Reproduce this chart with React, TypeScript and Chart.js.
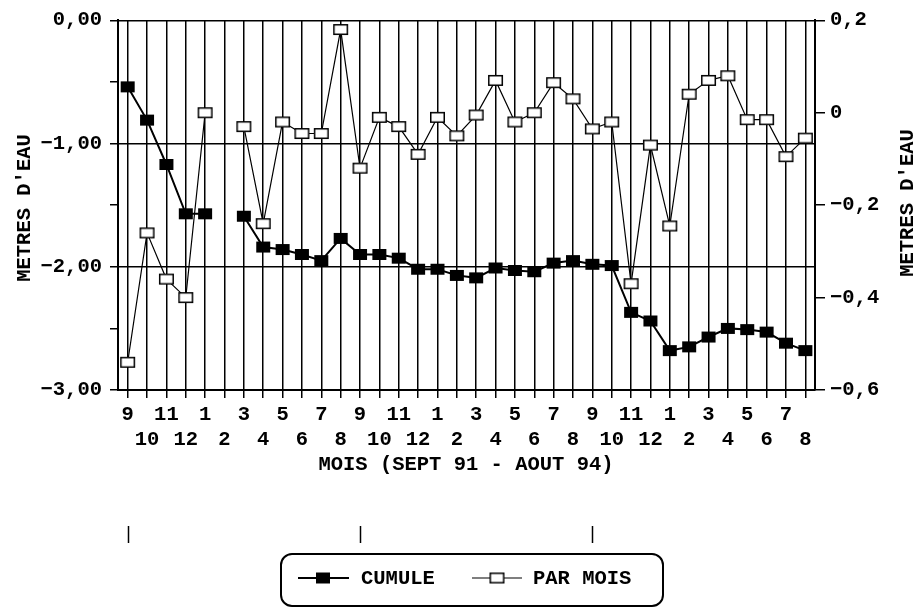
import React, { useEffect, useRef } from "react";
import { Chart, registerables } from "chart.js";

Chart.register(...registerables);

// ---- Data ----
const MONTHS: string[] = [
  "9", "10", "11", "12", "1", "2", "3", "4", "5", "6", "7", "8",
  "9", "10", "11", "12", "1", "2", "3", "4", "5", "6", "7", "8",
  "9", "10", "11", "12", "1", "2", "3", "4", "5", "6", "7", "8",
];

// cumulative level (left axis, metres)
const CUMULE: (number | null)[] = [
  -0.54, -0.81, -1.17, -1.57, -1.57, null, -1.59, -1.84, -1.86, -1.90, -1.95, -1.77,
  -1.90, -1.90, -1.93, -2.02, -2.02, -2.07, -2.09, -2.01, -2.03, -2.04, -1.97, -1.95,
  -1.98, -1.99, -2.37, -2.44, -2.68, -2.65, -2.57, -2.50, -2.51, -2.53, -2.62, -2.68,
];

// monthly change (right axis, metres)
const PAR_MOIS: (number | null)[] = [
  -0.54, -0.26, -0.36, -0.40, 0.0, null, -0.03, -0.24, -0.02, -0.045, -0.045, 0.18,
  -0.12, -0.01, -0.03, -0.09, -0.01, -0.05, -0.005, 0.07, -0.02, 0.0, 0.065, 0.03,
  -0.035, -0.02, -0.37, -0.07, -0.245, 0.04, 0.07, 0.08, -0.015, -0.015, -0.095, -0.055,
];

const LEFT_MIN = -3;
const LEFT_MAX = 0;
const LEFT_STEP = 0.5;
const RIGHT_MIN = -0.6;
const RIGHT_MAX = 0.2;
const RIGHT_STEP = 0.2;

const SERIES_NAMES = ["CUMULE", "PAR MOIS"];
const Y_TITLE = "METRES D'EAU";
const X_TITLE = "MOIS (SEPT 91 - AOUT 94)";
const YEAR_MARK_INDEXES = [0, 12, 24];

const FONT_FAMILY = "'Liberation Mono', 'Courier New', monospace";
const FONT_SIZE = 20.5;
const FONT = `bold ${FONT_SIZE}px ${FONT_FAMILY}`;

function makeMarker(w: number, h: number, filled: boolean): HTMLCanvasElement {
  const c = document.createElement("canvas");
  c.width = w + 2;
  c.height = h + 2;
  const g = c.getContext("2d")!;
  if (filled) {
    g.fillStyle = "#000";
    g.fillRect(1, 1, w, h);
  } else {
    g.fillStyle = "#fff";
    g.fillRect(1, 1, w, h);
    g.strokeStyle = "#000";
    g.lineWidth = 1.5;
    g.strokeRect(1.75, 1.75, w - 1.5, h - 1.5);
  }
  return c;
}

function fmtLeft(v: number): string {
  if (Math.abs(v - Math.round(v)) > 1e-6) return "";
  const r = Math.round(v);
  const s = Math.abs(r).toFixed(2).replace(".", ",");
  return r < 0 ? "\u2212" + s : s;
}

function fmtRight(v: number): string {
  if (Math.abs(v) < 1e-9) return "0";
  const s = Math.abs(v).toFixed(1).replace(".", ",");
  return v < 0 ? "\u2212" + s : s;
}

export default function App() {
  const ref = useRef<HTMLCanvasElement | null>(null);

  useEffect(() => {
    if (!ref.current) return;
    const filledMarker = makeMarker(14, 11, true);
    const openMarker = makeMarker(15, 11, false);

    const labels = MONTHS.map((m, i) => (i % 2 === 0 ? [m] : ["", m]));

    const extras = {
      id: "extras",
      afterDraw(chart: any) {
        const ctx: CanvasRenderingContext2D = chart.ctx;
        const xs = chart.scales.x;
        ctx.save();
        ctx.fillStyle = "#000";
        ctx.strokeStyle = "#000";
        ctx.font = FONT;
        ctx.textAlign = "center";
        ctx.textBaseline = "middle";

        // axis titles
        ctx.save();
        ctx.translate(25, 208);
        ctx.rotate(-Math.PI / 2);
        ctx.fillText(Y_TITLE, 0, 0);
        ctx.restore();

        ctx.save();
        ctx.translate(908, 203);
        ctx.rotate(-Math.PI / 2);
        ctx.fillText(Y_TITLE, 0, 0);
        ctx.restore();

        ctx.fillText(X_TITLE, 466, 465);

        // year marks
        ctx.lineWidth = 1.5;
        YEAR_MARK_INDEXES.forEach((i) => {
          const px = Math.round(xs.getPixelForValue(i)) + 0.5;
          ctx.beginPath();
          ctx.moveTo(px, 526);
          ctx.lineTo(px, 543);
          ctx.stroke();
        });

        // legend box
        ctx.lineWidth = 2;
        ctx.beginPath();
        (ctx as any).roundRect(281, 554, 382, 52, 11);
        ctx.stroke();

        const ly = 578;
        ctx.textAlign = "left";
        // item 1
        ctx.lineWidth = 2;
        ctx.beginPath();
        ctx.moveTo(298, ly);
        ctx.lineTo(349, ly);
        ctx.stroke();
        ctx.drawImage(filledMarker, 323 - filledMarker.width / 2, ly - filledMarker.height / 2);
        ctx.fillText(SERIES_NAMES[0], 361, ly + 1);
        // item 2
        ctx.lineWidth = 1.2;
        ctx.beginPath();
        ctx.moveTo(472, ly);
        ctx.lineTo(522, ly);
        ctx.stroke();
        ctx.drawImage(openMarker, 497 - openMarker.width / 2, ly - openMarker.height / 2);
        ctx.fillText(SERIES_NAMES[1], 533, ly + 1);

        ctx.restore();
      },
    };

    const tickFont = { family: FONT_FAMILY, size: FONT_SIZE, weight: "bold" as const };

    const chart = new Chart(ref.current, {
      type: "line",
      data: {
        labels,
        datasets: [
          {
            label: SERIES_NAMES[0],
            data: CUMULE,
            yAxisID: "y",
            borderColor: "#000",
            borderWidth: 2,
            pointStyle: filledMarker as any,
            pointRadius: 7,
            spanGaps: false,
            order: 0,
          },
          {
            label: SERIES_NAMES[1],
            data: PAR_MOIS,
            yAxisID: "y1",
            borderColor: "#000",
            borderWidth: 1.2,
            pointStyle: openMarker as any,
            pointRadius: 7,
            spanGaps: false,
            order: 1,
          },
        ],
      },
      options: {
        animation: false,
        responsive: false,
        devicePixelRatio: 1,
        layout: { padding: { top: 15, left: 0, right: 0, bottom: 0 } },
        plugins: { legend: { display: false }, tooltip: { enabled: false } },
        scales: {
          x: {
            type: "category",
            offset: true,
            grid: {
              color: "#000",
              lineWidth: 1.5,
              tickLength: 8,
              drawTicks: true,
            },
            border: { display: true, color: "#000", width: 2 },
            ticks: {
              color: "#000",
              font: tickFont,
              autoSkip: false,
              maxRotation: 0,
              minRotation: 0,
              padding: 5,
            },
            afterFit: (s: any) => {
              s.height = 218;
            },
          },
          y: {
            type: "linear",
            position: "left",
            min: LEFT_MIN,
            max: LEFT_MAX,
            ticks: {
              stepSize: LEFT_STEP,
              color: "#000",
              font: tickFont,
              padding: 8,
              callback: (v: any) => fmtLeft(Number(v)),
            },
            grid: {
              color: (c: any) =>
                Math.abs(c.tick.value - Math.round(c.tick.value)) < 1e-6 ? "#000" : "rgba(0,0,0,0)",
              tickColor: "#000",
              lineWidth: 1.5,
              tickLength: 8,
            },
            border: { display: true, color: "#000", width: 2 },
            afterFit: (s: any) => {
              s.width = 118;
            },
          },
          y1: {
            type: "linear",
            position: "right",
            min: RIGHT_MIN,
            max: RIGHT_MAX,
            ticks: {
              stepSize: RIGHT_STEP,
              color: "#000",
              font: tickFont,
              padding: 5,
              callback: (v: any) => fmtRight(Number(v)),
            },
            grid: {
              drawOnChartArea: false,
              color: "#000",
              tickColor: "#000",
              lineWidth: 1.5,
              tickLength: 10,
            },
            border: { display: true, color: "#000", width: 2 },
            afterFit: (s: any) => {
              s.width = 102;
            },
          },
        },
      },
      plugins: [extras],
    });

    return () => chart.destroy();
  }, []);

  return (
    <div style={{ position: "absolute", left: 0, top: 0, width: 917, height: 608, background: "#fff" }}>
      <canvas ref={ref} width={917} height={608} style={{ display: "block" }} />
    </div>
  );
}
